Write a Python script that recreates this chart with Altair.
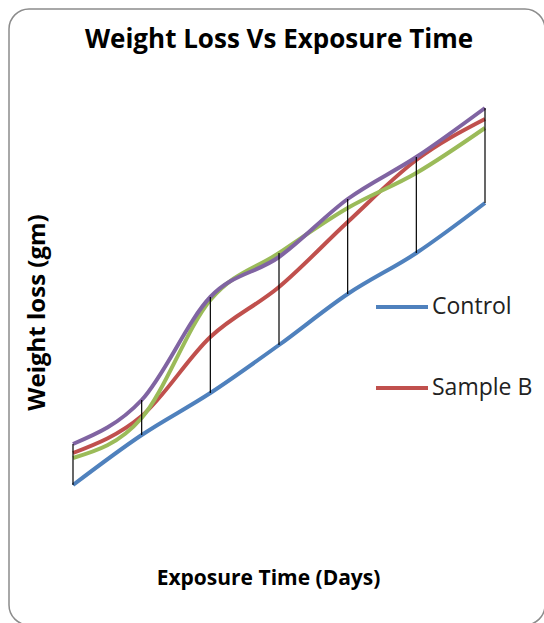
import altair as alt
import pandas as pd

# Exposure time points (days) and weight loss (gm) per series
days = [1, 2, 3, 4, 5, 6, 7]
control = [0.35, 0.85, 1.27, 1.75, 2.26, 2.67, 3.17]
sample_b = [0.67, 1.04, 1.83, 2.33, 2.98, 3.60, 4.01]
sample_c = [0.62, 1.02, 2.20, 2.67, 3.12, 3.47, 3.92]
sample_d = [0.76, 1.20, 2.23, 2.63, 3.21, 3.63, 4.12]

series_names = ["Control", "Sample B", "Sample C", "Sample D"]
series_colors = ["#4F81BD", "#C0504D", "#9BBB59", "#8064A2"]
series_values = [control, sample_b, sample_c, sample_d]

rows = []
for order, (name, vals) in enumerate(zip(series_names, series_values)):
    for d, v in zip(days, vals):
        rows.append({"Days": d, "Loss": v, "Series": name, "order": order})
df = pd.DataFrame(rows)

FONT = "Open Sans"

x_enc = alt.X(
    "Days:Q",
    scale=alt.Scale(domain=[1, 7], nice=False, zero=False),
    axis=alt.Axis(
        title="Exposure Time (Days)", labels=False, ticks=False, domain=False, grid=False,
        titleFont=FONT, titleFontSize=21, titleFontWeight="bold", titleColor="#000000",
        titleX=195, titleY=58, titleBaseline="middle", titleAlign="center",
    ),
)
y_scale = alt.Scale(domain=[0, 4.2], nice=False, zero=True)
y_axis = alt.Axis(
    title="Weight loss (gm)", labels=False, ticks=False, domain=False, grid=False,
    titleFont=FONT, titleFontSize=24, titleFontWeight="bold", titleColor="#000000",
    titleAngle=-90, titleX=-36, titleY=212, titleBaseline="middle", titleAlign="center",
)

lines = alt.Chart(df).mark_line(strokeWidth=4, interpolate="monotone").encode(
    x=x_enc,
    y=alt.Y("Loss:Q", scale=y_scale, axis=y_axis),
    color=alt.Color(
        "Series:N",
        scale=alt.Scale(domain=series_names, range=series_colors),
        legend=alt.Legend(
            values=["Control", "Sample B"], title=None, orient="none",
            legendX=301, legendY=179, symbolType="stroke", symbolSize=2704,
            symbolStrokeWidth=4, labelFont=FONT, labelFontSize=23, labelColor="#222222",
            rowPadding=41, labelOffset=2,
        ),
    ),
    order=alt.Order("order:Q"),
)

# High-low lines spanning the lowest to highest series at each day
hilo = alt.Chart(df).transform_aggregate(
    lo="min(Loss)", hi="max(Loss)", groupby=["Days"]
).mark_rule(color="#000000", strokeWidth=1.2).encode(
    x="Days:Q",
    y=alt.Y("lo:Q", scale=y_scale),
    y2="hi:Q",
)

# Rounded chart-area frame
frame = alt.Chart(pd.DataFrame({"k": [0]})).mark_rect(
    fill=None, stroke="#8c8c8c", strokeWidth=1.5, cornerRadius=20
).encode(
    x=alt.value(-64), x2=alt.value(472), y=alt.value(-91), y2=alt.value(525)
)

chart = alt.layer(frame, lines, hilo).properties(
    width=412,
    height=420,
    title=alt.TitleParams(
        "Weight Loss Vs Exposure Time", font=FONT, fontSize=26, fontWeight="bold",
        color="#000000", anchor="middle", offset=0, baseline="alphabetic", dy=66,
    ),
    autosize=alt.AutoSizeParams(type="none"),
    padding={"left": 73, "top": 100, "right": 59, "bottom": 103},
    background="#ffffff",
).configure_view(stroke=None)

chart.save("out.html", embed_options={"renderer": "svg", "actions": False})
